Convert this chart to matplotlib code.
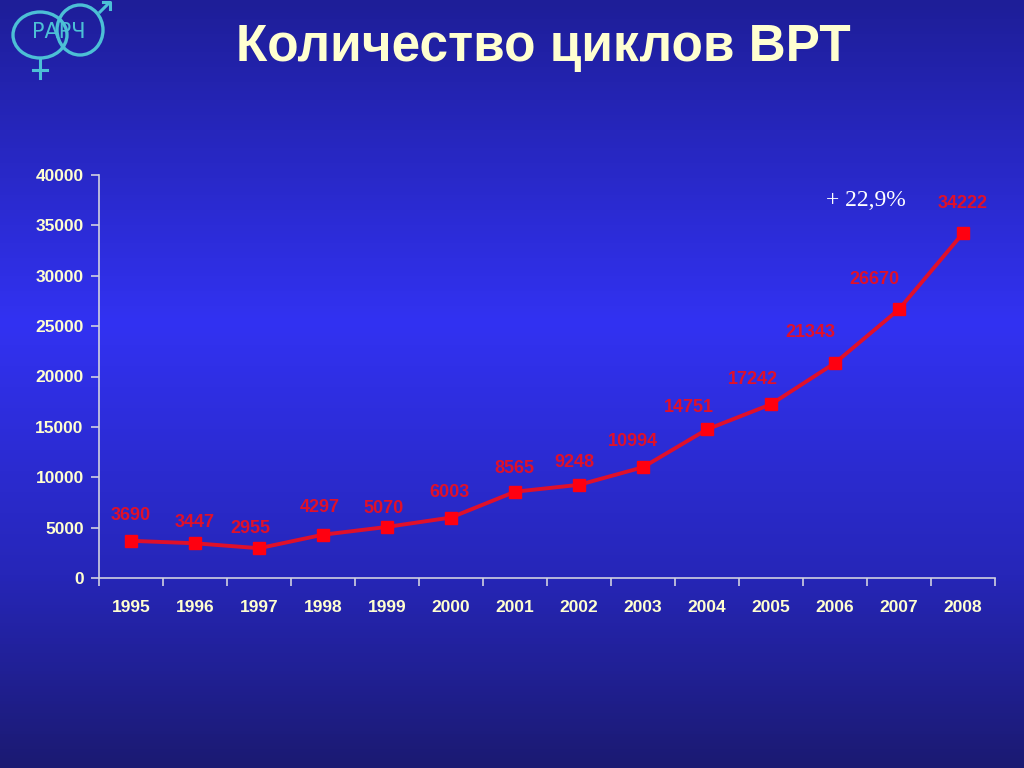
import numpy as np
import matplotlib
matplotlib.use("Agg")
import matplotlib.pyplot as plt
from matplotlib.colors import LinearSegmentedColormap
from matplotlib.patches import Ellipse

years = ["1995", "1996", "1997", "1998", "1999", "2000", "2001",
         "2002", "2003", "2004", "2005", "2006", "2007", "2008"]
cycles = [3690, 3447, 2955, 4297, 5070, 6003, 8565,
          9248, 10994, 14751, 17242, 21343, 26670, 34222]
yticks = [0, 5000, 10000, 15000, 20000, 25000, 30000, 35000, 40000]
title = "Количество циклов ВРТ"
growth = "+ 22,9%"

# label offsets (pixels) relative to each point, as in the slide
lab_dx = [0, 0, -9, -3, -3, -1, -1, -5, -10, -18, -18, -25, -25, 0]
lab_dy = [25, 21, 20, 27, 18, 25, 23, 22, 26, 22, 25, 30, 30, 30]

plt.rcParams["font.family"] = ["Liberation Sans", "DejaVu Sans"]
cream = "#ffffd0"
red = "#e0102a"

fig = plt.figure(figsize=(10.24, 7.68), dpi=100)

# background gradient
bg = fig.add_axes([0, 0, 1, 1], zorder=-10)
cmap = LinearSegmentedColormap.from_list(
    "bg", [(0.0, "#1e1e98"), (0.42, "#3232f2"), (0.75, "#2626b8"), (1.0, "#1b1a72")])
grad = np.linspace(0, 1, 256).reshape(-1, 1)
bg.imshow(grad, aspect="auto", cmap=cmap, extent=[0, 1, 0, 1], origin="upper")
bg.set_axis_off()

# logo
lg = fig.add_axes([0, 1 - 90 / 768, 130 / 1024, 90 / 768])
lg.set_xlim(0, 130)
lg.set_ylim(90, 0)
lg.set_axis_off()
logo_c = "#4cc0d6"
lg.add_patch(Ellipse((40, 35), 54, 46, fill=False, ec=logo_c, lw=2.4))
lg.add_patch(Ellipse((80, 30), 46, 50, fill=False, ec=logo_c, lw=2.4))
lg.text(59, 32, "РАРЧ", color=logo_c, fontsize=15, ha="center", va="center",
        family=["DejaVu Sans"])
lg.plot([40, 40], [58, 78], color=logo_c, lw=2.2)
lg.plot([33, 47], [70, 70], color=logo_c, lw=2.2)
lg.plot([100, 109], [12, 3], color=logo_c, lw=2.2)
lg.plot([103, 110, 110], [2, 2, 9], color=logo_c, lw=2.2)

ax = fig.add_axes([99 / 1024, 1 - 578 / 768, 896 / 1024, 403 / 768])
ax.patch.set_alpha(0)
x = np.arange(len(years))
ax.plot(x, cycles, color=red, lw=2.8, marker="s", markersize=8,
        markerfacecolor="#ff0010", markeredgecolor="#ff0010", zorder=3)

for xi, v, dx, dy in zip(x, cycles, lab_dx, lab_dy):
    ax.annotate(str(v), (xi, v), xytext=(dx, dy), textcoords="offset pixels",
                ha="center", va="center", color=red, fontsize=13,
                fontweight="bold")

ax.set_xlim(-0.5, len(years) - 0.5)
ax.set_ylim(0, 40000)
ax.set_yticks(yticks)
ax.set_yticklabels([str(t) for t in yticks])
ax.set_xticks(x)
ax.set_xticklabels(years)
ax.set_xticks(np.arange(-0.5, len(years)), minor=True)
ax.tick_params(axis="x", which="major", length=0, pad=16,
               labelcolor=cream, labelsize=12.5)
ax.tick_params(axis="x", which="minor", length=6, color="#d0d0e0",
               width=1.2, direction="out")
ax.tick_params(axis="y", length=6, color="#d0d0e0", width=1.2,
               labelcolor=cream, labelsize=12.5, pad=5)
for lab in ax.get_xticklabels() + ax.get_yticklabels():
    lab.set_fontweight("bold")
for s in ["top", "right"]:
    ax.spines[s].set_visible(False)
for s in ["left", "bottom"]:
    ax.spines[s].set_color("#d0d0e0")
    ax.spines[s].set_linewidth(1.2)

fig.text(543 / 1024, 1 - 47 / 768, title, color=cream, fontsize=37,
         fontweight="bold", ha="center", va="center")
fig.text(866 / 1024, 1 - 200 / 768, growth, color="white", fontsize=17,
         family=["Liberation Serif", "DejaVu Serif"], ha="center", va="center")

fig.savefig("out.png", dpi=100)
